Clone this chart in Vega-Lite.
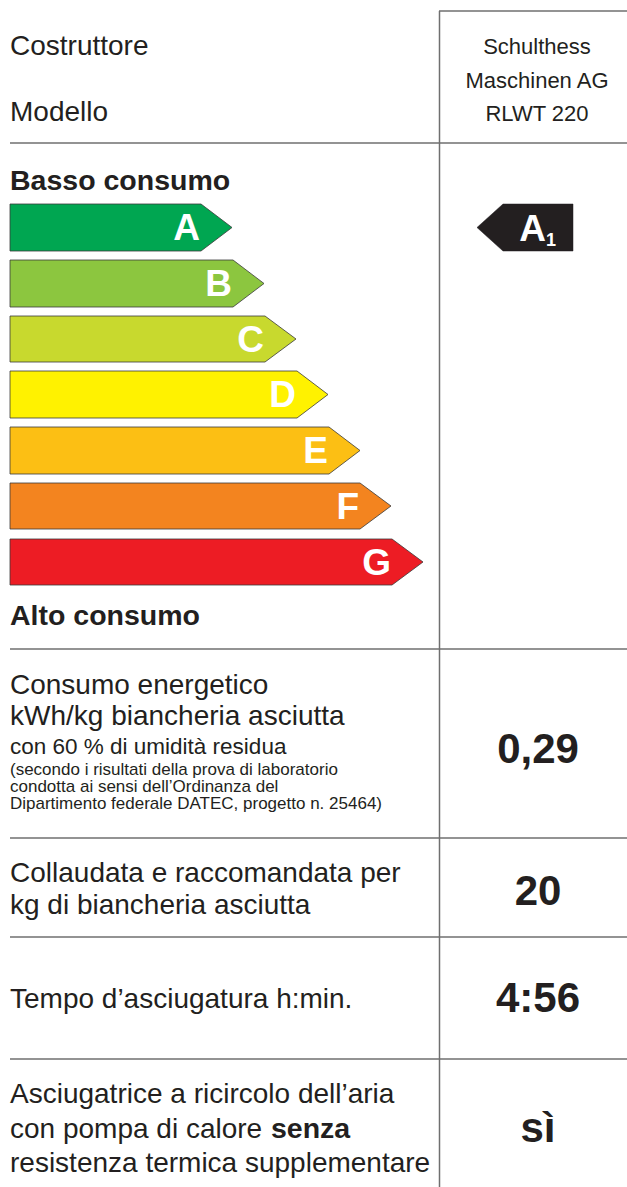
{
  "$schema": "https://vega.github.io/schema/vega-lite/v6.json",
  "width": 627,
  "height": 1187,
  "autosize": {"type": "none"},
  "padding": 0,
  "background": "white",
  "config": {
    "view": {"stroke": null},
    "axis": {"disable": true},
    "legend": {"disable": true}
  },
  "datasets": {
    "grid": [
      {"x": 439, "x2": 627, "y": 11, "y2": 11},
      {"x": 439.5, "x2": 439.5, "y": 11, "y2": 1187},
      {"x": 10, "x2": 627, "y": 143, "y2": 143},
      {"x": 10, "x2": 627, "y": 649, "y2": 649},
      {"x": 10, "x2": 627, "y": 838, "y2": 838},
      {"x": 10, "x2": 627, "y": 937, "y2": 937},
      {"x": 10, "x2": 627, "y": 1059, "y2": 1059}
    ],
    "bars": [
      {"class": "A", "x": 10, "top": 204, "bottom": 251},
      {"class": "A", "x": 201, "top": 204, "bottom": 251},
      {"class": "A", "x": 232, "top": 227.5, "bottom": 227.5},
      {"class": "B", "x": 10, "top": 260, "bottom": 307},
      {"class": "B", "x": 233, "top": 260, "bottom": 307},
      {"class": "B", "x": 264, "top": 283.5, "bottom": 283.5},
      {"class": "C", "x": 10, "top": 316, "bottom": 362},
      {"class": "C", "x": 265, "top": 316, "bottom": 362},
      {"class": "C", "x": 296, "top": 339, "bottom": 339},
      {"class": "D", "x": 10, "top": 371, "bottom": 418},
      {"class": "D", "x": 297, "top": 371, "bottom": 418},
      {"class": "D", "x": 328, "top": 394.5, "bottom": 394.5},
      {"class": "E", "x": 10, "top": 427, "bottom": 474},
      {"class": "E", "x": 329, "top": 427, "bottom": 474},
      {"class": "E", "x": 360, "top": 450.5, "bottom": 450.5},
      {"class": "F", "x": 10, "top": 483, "bottom": 529},
      {"class": "F", "x": 360, "top": 483, "bottom": 529},
      {"class": "F", "x": 391, "top": 506, "bottom": 506},
      {"class": "G", "x": 10, "top": 539, "bottom": 585},
      {"class": "G", "x": 392, "top": 539, "bottom": 585},
      {"class": "G", "x": 423, "top": 562, "bottom": 562}
    ],
    "letters": [
      {"class": "A", "x": 200, "y": 240},
      {"class": "B", "x": 232, "y": 296},
      {"class": "C", "x": 264, "y": 352},
      {"class": "D", "x": 296, "y": 407},
      {"class": "E", "x": 328, "y": 463},
      {"class": "F", "x": 359, "y": 519},
      {"class": "G", "x": 391, "y": 575}
    ],
    "pointer": [
      {"class": "A1", "x": 477, "top": 227.5, "bottom": 227.5},
      {"class": "A1", "x": 503, "top": 204, "bottom": 251},
      {"class": "A1", "x": 573, "top": 204, "bottom": 251}
    ],
    "pointerText": [
      {"part": "main", "text": "A", "x": 546, "y": 241},
      {"part": "sub", "text": "1", "x": 546, "y": 246}
    ],
    "texts": [
      {"kind": "label", "text": "Costruttore", "x": 10, "y": 55},
      {"kind": "label", "text": "Modello", "x": 10, "y": 121},
      {"kind": "label", "text": "Consumo energetico", "x": 10, "y": 694},
      {"kind": "label", "text": "kWh/kg biancheria asciutta", "x": 10, "y": 725},
      {"kind": "label", "text": "Collaudata e raccomandata per", "x": 10, "y": 882},
      {"kind": "label", "text": "kg di biancheria asciutta", "x": 10, "y": 914},
      {"kind": "label", "text": "Tempo d’asciugatura h:min.", "x": 10, "y": 1008},
      {"kind": "label", "text": "Asciugatrice a ricircolo dell’aria", "x": 10, "y": 1103},
      {"kind": "label", "text": "con pompa di calore", "x": 10, "y": 1138},
      {"kind": "label", "text": "resistenza termica supplementare", "x": 10, "y": 1172},
      {"kind": "labelBold", "text": "Basso consumo", "x": 10, "y": 190},
      {"kind": "labelBold", "text": "Alto consumo", "x": 10, "y": 625},
      {"kind": "labelBold", "text": "senza", "x": 271, "y": 1138},
      {"kind": "maker", "text": "Schulthess", "x": 537, "y": 54},
      {"kind": "maker", "text": "Maschinen AG", "x": 537, "y": 88},
      {"kind": "maker", "text": "RLWT 220", "x": 537, "y": 121},
      {"kind": "sub", "text": "con 60 % di umidità residua", "x": 10, "y": 754},
      {"kind": "note", "text": "(secondo i risultati della prova di laboratorio", "x": 10, "y": 775},
      {"kind": "note", "text": "condotta ai sensi dell’Ordinanza del", "x": 10, "y": 792},
      {"kind": "note", "text": "Dipartimento federale DATEC, progetto n. 25464)", "x": 10, "y": 809},
      {"kind": "value", "text": "0,29", "x": 538, "y": 763},
      {"kind": "value", "text": "20", "x": 538, "y": 905},
      {"kind": "value", "text": "4:56", "x": 538, "y": 1012},
      {"kind": "value", "text": "sì", "x": 538, "y": 1142}
    ]
  },
  "layer": [
    {
      "data": {"name": "grid"},
      "mark": {"type": "rule", "stroke": "#6f6f6f", "strokeWidth": 1.5},
      "encoding": {
        "x": {"field": "x", "type": "quantitative", "scale": {"domain": [0, 627], "nice": false, "zero": false}},
        "x2": {"field": "x2"},
        "y": {"field": "y", "type": "quantitative", "scale": {"domain": [0, 1187], "nice": false, "zero": false, "reverse": true}},
        "y2": {"field": "y2"}
      }
    },
    {
      "data": {"name": "bars"},
      "mark": {"type": "area", "orient": "vertical", "stroke": "#3a3a3a", "strokeWidth": 0.8, "fillOpacity": 1},
      "encoding": {
        "x": {"field": "x", "type": "quantitative"},
        "y": {"field": "top", "type": "quantitative"},
        "y2": {"field": "bottom"},
        "detail": {"field": "class"},
        "color": {
          "field": "class",
          "type": "nominal",
          "scale": {
            "domain": ["A", "B", "C", "D", "E", "F", "G"],
            "range": ["#00a651", "#8cc63f", "#c8d92e", "#fff200", "#fcbf14", "#f3841f", "#ed1c24"]
          }
        }
      }
    },
    {
      "data": {"name": "letters"},
      "mark": {"type": "text", "font": "Liberation Sans", "fontWeight": "bold", "fontSize": 37, "align": "right", "baseline": "alphabetic", "fill": "white"},
      "encoding": {
        "x": {"field": "x", "type": "quantitative"},
        "y": {"field": "y", "type": "quantitative"},
        "text": {"field": "class"}
      }
    },
    {
      "data": {"name": "pointer"},
      "mark": {"type": "area", "orient": "vertical", "fill": "#231f20", "stroke": "#231f20", "strokeWidth": 0.5},
      "encoding": {
        "x": {"field": "x", "type": "quantitative"},
        "y": {"field": "top", "type": "quantitative"},
        "y2": {"field": "bottom"}
      }
    },
    {
      "data": {"name": "pointerText"},
      "transform": [{"filter": "datum.part === 'main'"}],
      "mark": {"type": "text", "font": "Liberation Sans", "fontWeight": "bold", "fontSize": 37, "align": "right", "baseline": "alphabetic", "fill": "white"},
      "encoding": {
        "x": {"field": "x", "type": "quantitative"},
        "y": {"field": "y", "type": "quantitative"},
        "text": {"field": "text"}
      }
    },
    {
      "data": {"name": "pointerText"},
      "transform": [{"filter": "datum.part === 'sub'"}],
      "mark": {"type": "text", "font": "Liberation Sans", "fontWeight": "bold", "fontSize": 18, "align": "left", "baseline": "alphabetic", "fill": "white"},
      "encoding": {
        "x": {"field": "x", "type": "quantitative"},
        "y": {"field": "y", "type": "quantitative"},
        "text": {"field": "text"}
      }
    },
    {
      "data": {"name": "texts"},
      "transform": [{"filter": "datum.kind === 'label'"}],
      "mark": {"type": "text", "font": "Liberation Sans", "fontSize": 28, "align": "left", "baseline": "alphabetic", "fill": "#231f20"},
      "encoding": {
        "x": {"field": "x", "type": "quantitative"},
        "y": {"field": "y", "type": "quantitative"},
        "text": {"field": "text"}
      }
    },
    {
      "data": {"name": "texts"},
      "transform": [{"filter": "datum.kind === 'labelBold'"}],
      "mark": {"type": "text", "font": "Liberation Sans", "fontWeight": "bold", "fontSize": 28.5, "align": "left", "baseline": "alphabetic", "fill": "#231f20"},
      "encoding": {
        "x": {"field": "x", "type": "quantitative"},
        "y": {"field": "y", "type": "quantitative"},
        "text": {"field": "text"}
      }
    },
    {
      "data": {"name": "texts"},
      "transform": [{"filter": "datum.kind === 'maker'"}],
      "mark": {"type": "text", "font": "Liberation Sans", "fontSize": 22, "align": "center", "baseline": "alphabetic", "fill": "#231f20"},
      "encoding": {
        "x": {"field": "x", "type": "quantitative"},
        "y": {"field": "y", "type": "quantitative"},
        "text": {"field": "text"}
      }
    },
    {
      "data": {"name": "texts"},
      "transform": [{"filter": "datum.kind === 'sub'"}],
      "mark": {"type": "text", "font": "Liberation Sans", "fontSize": 22.5, "align": "left", "baseline": "alphabetic", "fill": "#231f20"},
      "encoding": {
        "x": {"field": "x", "type": "quantitative"},
        "y": {"field": "y", "type": "quantitative"},
        "text": {"field": "text"}
      }
    },
    {
      "data": {"name": "texts"},
      "transform": [{"filter": "datum.kind === 'note'"}],
      "mark": {"type": "text", "font": "Liberation Sans", "fontSize": 17, "align": "left", "baseline": "alphabetic", "fill": "#231f20"},
      "encoding": {
        "x": {"field": "x", "type": "quantitative"},
        "y": {"field": "y", "type": "quantitative"},
        "text": {"field": "text"}
      }
    },
    {
      "data": {"name": "texts"},
      "transform": [{"filter": "datum.kind === 'value'"}],
      "mark": {"type": "text", "font": "Liberation Sans", "fontWeight": "bold", "fontSize": 42, "align": "center", "baseline": "alphabetic", "fill": "#231f20"},
      "encoding": {
        "x": {"field": "x", "type": "quantitative"},
        "y": {"field": "y", "type": "quantitative"},
        "text": {"field": "text"}
      }
    }
  ]
}
